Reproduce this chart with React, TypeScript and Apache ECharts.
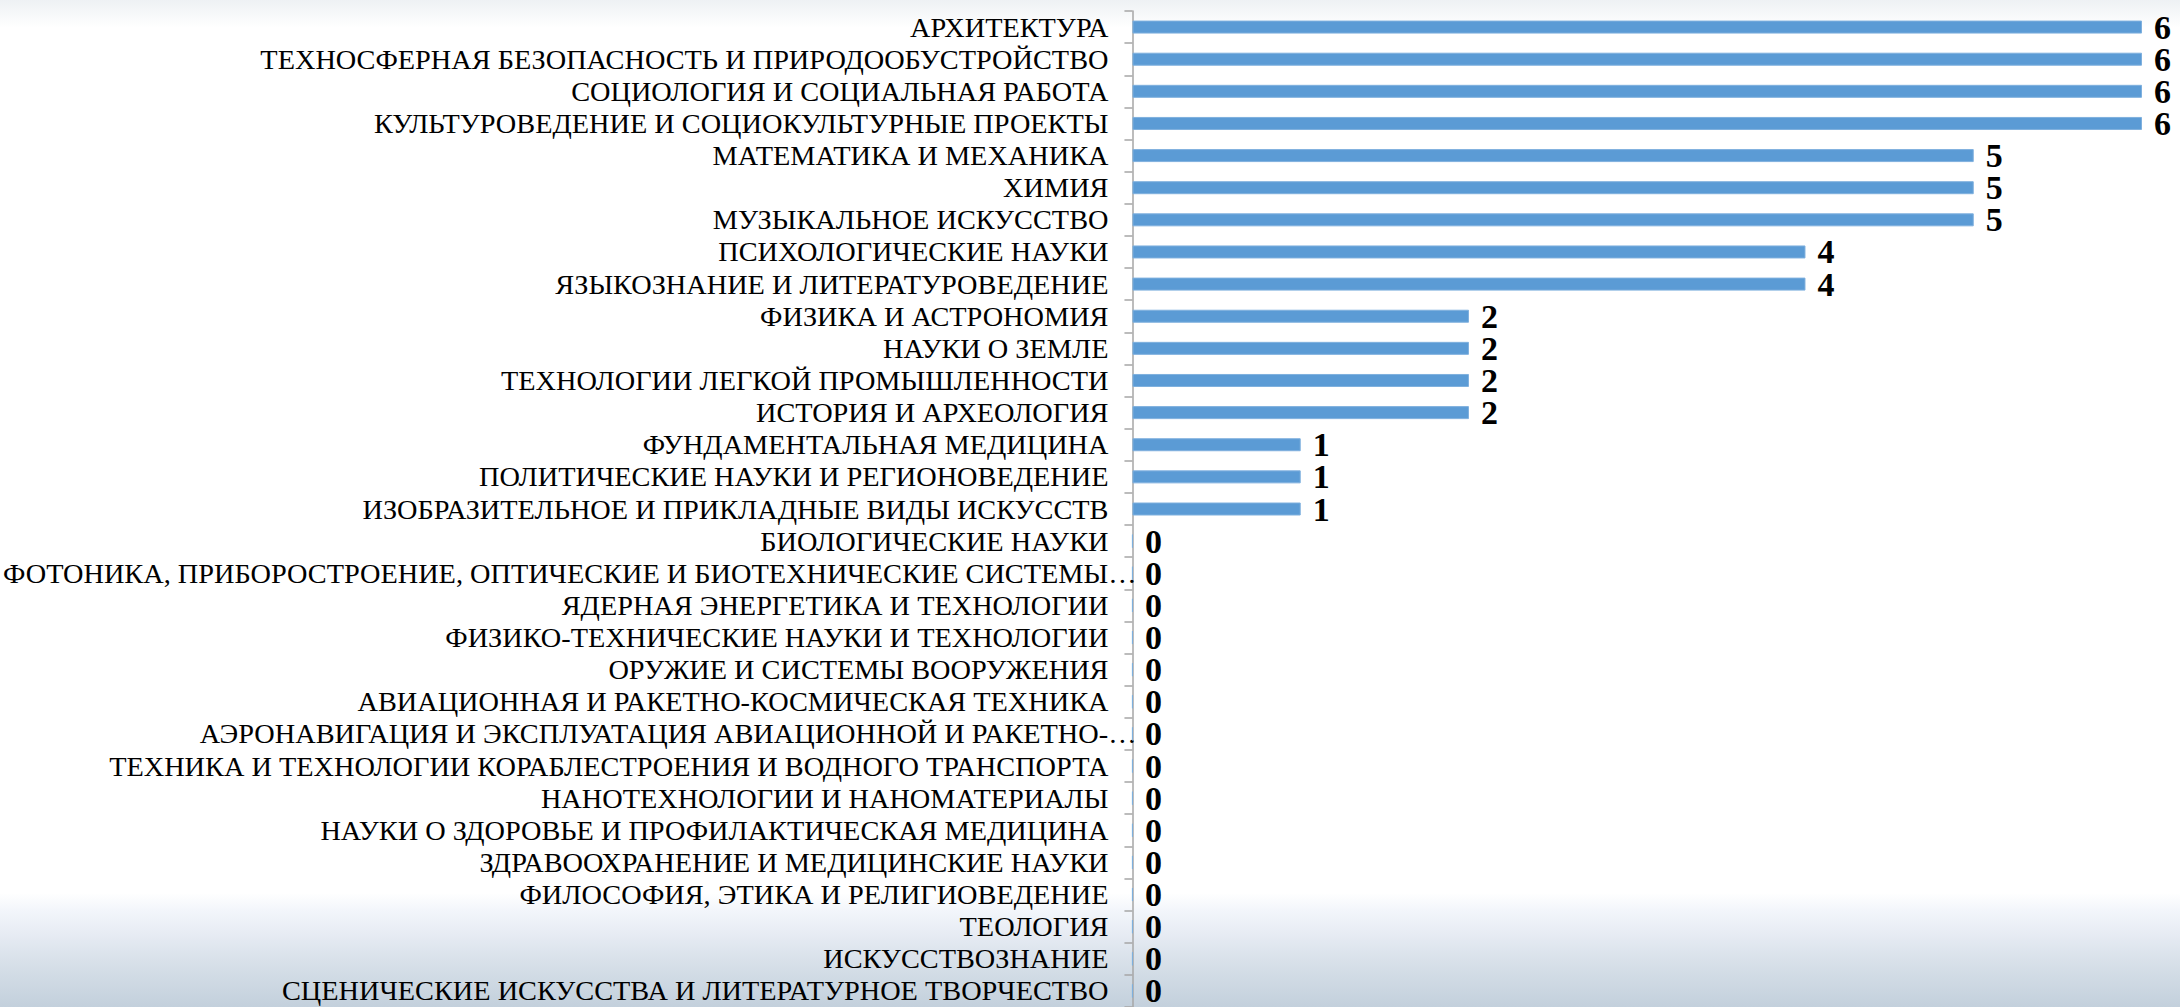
import React, { useEffect, useRef } from "react";
import * as echarts from "echarts";

const categories: string[] = [
  "АРХИТЕКТУРА",
  "ТЕХНОСФЕРНАЯ БЕЗОПАСНОСТЬ И ПРИРОДООБУСТРОЙСТВО",
  "СОЦИОЛОГИЯ И СОЦИАЛЬНАЯ РАБОТА",
  "КУЛЬТУРОВЕДЕНИЕ И СОЦИОКУЛЬТУРНЫЕ ПРОЕКТЫ",
  "МАТЕМАТИКА И МЕХАНИКА",
  "ХИМИЯ",
  "МУЗЫКАЛЬНОЕ ИСКУССТВО",
  "ПСИХОЛОГИЧЕСКИЕ НАУКИ",
  "ЯЗЫКОЗНАНИЕ И ЛИТЕРАТУРОВЕДЕНИЕ",
  "ФИЗИКА И АСТРОНОМИЯ",
  "НАУКИ О ЗЕМЛЕ",
  "ТЕХНОЛОГИИ ЛЕГКОЙ ПРОМЫШЛЕННОСТИ",
  "ИСТОРИЯ И АРХЕОЛОГИЯ",
  "ФУНДАМЕНТАЛЬНАЯ МЕДИЦИНА",
  "ПОЛИТИЧЕСКИЕ НАУКИ И РЕГИОНОВЕДЕНИЕ",
  "ИЗОБРАЗИТЕЛЬНОЕ И ПРИКЛАДНЫЕ ВИДЫ ИСКУССТВ",
  "БИОЛОГИЧЕСКИЕ НАУКИ",
  "ФОТОНИКА, ПРИБОРОСТРОЕНИЕ, ОПТИЧЕСКИЕ И БИОТЕХНИЧЕСКИЕ СИСТЕМЫ…",
  "ЯДЕРНАЯ ЭНЕРГЕТИКА И ТЕХНОЛОГИИ",
  "ФИЗИКО-ТЕХНИЧЕСКИЕ НАУКИ И ТЕХНОЛОГИИ",
  "ОРУЖИЕ И СИСТЕМЫ ВООРУЖЕНИЯ",
  "АВИАЦИОННАЯ И РАКЕТНО-КОСМИЧЕСКАЯ ТЕХНИКА",
  "АЭРОНАВИГАЦИЯ И ЭКСПЛУАТАЦИЯ АВИАЦИОННОЙ И РАКЕТНО-…",
  "ТЕХНИКА И ТЕХНОЛОГИИ КОРАБЛЕСТРОЕНИЯ И ВОДНОГО ТРАНСПОРТА",
  "НАНОТЕХНОЛОГИИ И НАНОМАТЕРИАЛЫ",
  "НАУКИ О ЗДОРОВЬЕ И ПРОФИЛАКТИЧЕСКАЯ МЕДИЦИНА",
  "ЗДРАВООХРАНЕНИЕ И МЕДИЦИНСКИЕ НАУКИ",
  "ФИЛОСОФИЯ, ЭТИКА И РЕЛИГИОВЕДЕНИЕ",
  "ТЕОЛОГИЯ",
  "ИСКУССТВОЗНАНИЕ",
  "СЦЕНИЧЕСКИЕ ИСКУССТВА И ЛИТЕРАТУРНОЕ ТВОРЧЕСТВО",
];

const values: number[] = [
  6, 6, 6, 6, 5, 5, 5, 4, 4, 2, 2, 2, 2, 1, 1, 1,
  0, 0, 0, 0, 0, 0, 0, 0, 0, 0, 0, 0, 0, 0, 0,
];

const valueMin = 0;
const valueMax = 6;

export default function App() {
  const ref = useRef<HTMLDivElement>(null);

  useEffect(() => {
    if (!ref.current) return;
    const chart = echarts.init(ref.current, null, { renderer: "svg" });
    chart.setOption({
      animation: false,
      backgroundColor: "transparent",
      grid: { left: 1131, right: 38, top: 11, height: 1000, containLabel: false },
      xAxis: {
        type: "value",
        min: valueMin,
        max: valueMax,
        show: false,
        splitLine: { show: false },
      },
      yAxis: {
        type: "category",
        data: categories,
        inverse: true,
        axisLine: { show: true, lineStyle: { color: "#a6a6a6", width: 1.5 } },
        axisTick: { show: true, length: 8, lineStyle: { color: "#a6a6a6", width: 1.5 } },
        axisLabel: {
          interval: 0,
          margin: -4,
          fontFamily: "Liberation Serif",
          fontSize: 28.3,
          lineHeight: 28,
          color: "#000",
          formatter: (v: string) => (v.endsWith("…") ? v : v + "{s| }"),
          rich: { s: { width: 28, fontSize: 28.3, lineHeight: 28, fontFamily: "Liberation Serif" } },
        },
      },
      series: [
        {
          type: "bar",
          data: values,
          barWidth: 13,
          itemStyle: { color: "#5B9BD5", borderColor: "#7fb0de", borderWidth: 1 },
          label: {
            show: true,
            position: "right",
            distance: 12,
            fontFamily: "Liberation Serif",
            fontWeight: "bold",
            fontSize: 34,
            lineHeight: 26,
            color: "#000",
          },
        },
      ],
    });
    return () => chart.dispose();
  }, []);

  return (
    <div
      ref={ref}
      style={{
        position: "fixed",
        left: 0,
        top: 0,
        width: 2180,
        height: 1007,
        background:
          "linear-gradient(to bottom, #eef1f4 0px, #ffffff 28px, #ffffff 893px, #f3f6fb 910px, #e6ebf3 935px, #d6dfe8 965px, #c3d0dc 1007px)",
      }}
    />
  );
}
